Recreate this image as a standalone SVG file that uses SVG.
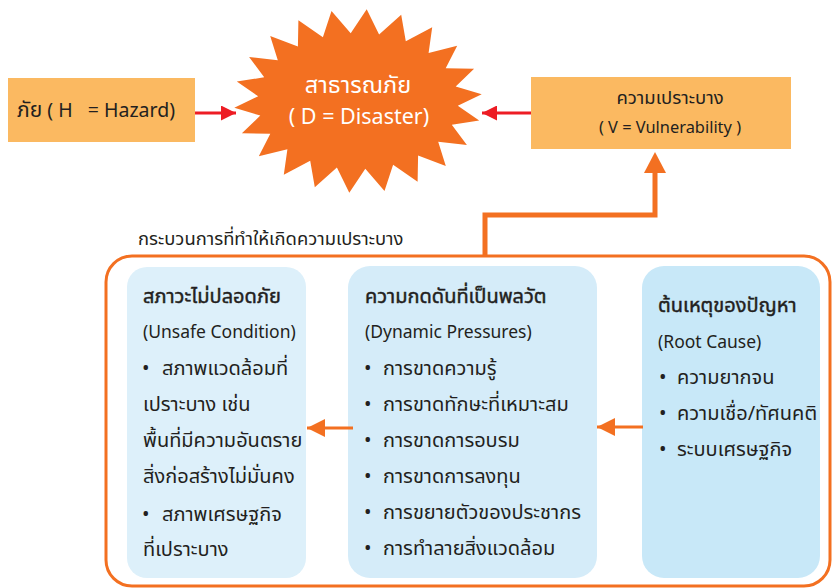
<svg xmlns="http://www.w3.org/2000/svg" width="832" height="588" viewBox="0 0 832 588">
<defs>
<style>
text{font-family:"Noto Sans Thai","Noto Sans","DejaVu Sans",sans-serif;fill:#231f20;white-space:pre}
.th{font-size:20px}
.la{font-size:17.5px}
.t{font-size:20px;stroke:#231f20;stroke-width:0.45}
.b{font-size:20px}
.star{fill:#ffffff;text-anchor:middle}
.box{fill:#FBB961}
.red{stroke:#ED1C24;stroke-width:3;fill:none}
.org{stroke:#F37021;fill:none}
</style>
<marker id="ar" viewBox="0 0 10 10" refX="10" refY="5" markerWidth="6" markerHeight="5" markerUnits="strokeWidth" orient="auto"><path d="M0,0 L10,5 L0,10 Z" fill="#ED1C24"/></marker>
<marker id="ao" viewBox="0 0 10 10" refX="10" refY="5" markerWidth="6" markerHeight="6" markerUnits="strokeWidth" orient="auto"><path d="M0,0 L10,5 L0,10 Z" fill="#F37021"/></marker>
</defs>
<rect width="832" height="588" fill="#ffffff"/>

<g id="hazard">
<rect class="box" x="8" y="78" width="187" height="64"/>
<text x="17" y="117"><tspan style="font-size:21px">ภัย</tspan><tspan style="font-size:19.5px"> ( H   = Hazard)</tspan></text>
</g>

<g id="disaster">
<polygon fill="#F37021" points="366.7,9.2 379.1,34.5 401.2,14.8 405.8,41.3 432.2,27.3 428.6,52.9 457.2,45.8 445.7,68.3 474.1,68.7 455.7,86.4 481.7,94.3 457.8,105.7 479.2,120.4 451.8,124.7 466.9,145 438.2,141.7 445.8,166 418.1,155.4 417.6,181.7 393.1,164.7 384.5,190.9 365.3,168.8 349.3,192.8 336.9,167.5 314.8,187.3 310.2,160.7 283.8,174.7 287.4,149.2 258.8,156.2 270.3,133.7 241.9,133.3 260.3,115.6 234.3,107.7 258.2,96.3 236.8,81.6 264.2,77.3 249.1,57 277.8,60.3 270.2,36 297.9,46.6 298.4,20.3 322.9,37.3 331.5,11.1 350.7,33.2"/>
<text class="star" x="358" y="93" style="font-size:23.5px">สาธารณภัย</text>
<text class="star" x="359" y="124" style="font-size:21.5px">( D = Disaster)</text>
</g>

<g id="vulnerability">
<rect class="box" x="531" y="77" width="260" height="72"/>
<text x="670" y="104" text-anchor="middle" style="font-size:18.5px">ความเปราะบาง</text>
<text x="670" y="133" text-anchor="middle" style="font-size:16.4px">( V = Vulnerability )</text>
</g>

<g id="process">
<text x="138" y="245" style="font-size:18.4px">กระบวนการที่ทำให้เกิดความเปราะบาง</text>
<rect x="106" y="256" width="724" height="330" rx="26" fill="none" stroke="#F37021" stroke-width="3"/>
</g>

<g id="unsafe">
<rect x="127" y="267" width="179" height="311" rx="20" fill="#DDF0FA"/>
<text class="t" x="143" y="303">สภาวะไม่ปลอดภัย</text>
<text class="la" x="143" y="338">(Unsafe Condition)</text>
<text class="th" x="142" y="375"><tspan class="b">•</tspan><tspan x="162">สภาพแวดล้อมที่</tspan></text>
<text class="th" x="143" y="411">เปราะบาง เช่น</text>
<text class="th" x="143" y="447">พื้นที่มีความอันตราย</text>
<text class="th" x="143" y="483">สิ่งก่อสร้างไม่มั่นคง</text>
<text class="th" x="142" y="521"><tspan class="b">•</tspan><tspan x="162">สภาพเศรษฐกิจ</tspan></text>
<text class="th" x="143" y="556">ที่เปราะบาง</text>
</g>

<g id="pressures">
<rect x="348" y="266" width="249" height="312" rx="22" fill="#D5ECF9"/>
<text class="t" x="365" y="303">ความกดดันที่เป็นพลวัต</text>
<text class="la" x="365" y="338">(Dynamic Pressures)</text>
<text class="th" x="364" y="375"><tspan class="b">•</tspan><tspan x="383">การขาดความรู้</tspan></text>
<text class="th" x="364" y="411"><tspan class="b">•</tspan><tspan x="383">การขาดทักษะที่เหมาะสม</tspan></text>
<text class="th" x="364" y="447"><tspan class="b">•</tspan><tspan x="383">การขาดการอบรม</tspan></text>
<text class="th" x="364" y="483"><tspan class="b">•</tspan><tspan x="383">การขาดการลงทุน</tspan></text>
<text class="th" x="364" y="519"><tspan class="b">•</tspan><tspan x="383">การขยายตัวของประชากร</tspan></text>
<text class="th" x="364" y="555"><tspan class="b">•</tspan><tspan x="383">การทำลายสิ่งแวดล้อม</tspan></text>
</g>

<g id="rootcause">
<rect x="642" y="266" width="178" height="312" rx="22" fill="#C8E8F8"/>
<text class="t" x="658" y="312">ต้นเหตุของปัญหา</text>
<text class="la" x="658" y="348">(Root Cause)</text>
<text class="th" x="659" y="384"><tspan class="b">•</tspan><tspan x="677">ความยากจน</tspan></text>
<text class="th" x="659" y="420"><tspan class="b">•</tspan><tspan x="677">ความเชื่อ/ทัศนคติ</tspan></text>
<text class="th" x="659" y="456"><tspan class="b">•</tspan><tspan x="677">ระบบเศรษฐกิจ</tspan></text>
</g>

<g id="connectors">
<line class="red" x1="195" y1="113" x2="236" y2="113" marker-end="url(#ar)"/>
<line class="red" x1="531" y1="113" x2="482" y2="113" marker-end="url(#ar)"/>
<polyline class="org" stroke-width="5" points="485,256 485,215 655,215 655,172"/>
<polygon fill="#F37021" points="644,173 666,173 655,152"/>
<line class="org" stroke-width="3" x1="643" y1="427" x2="597" y2="427" marker-end="url(#ao)"/>
<line class="org" stroke-width="3" x1="353" y1="428" x2="307" y2="428" marker-end="url(#ao)"/>
</g>
</svg>
